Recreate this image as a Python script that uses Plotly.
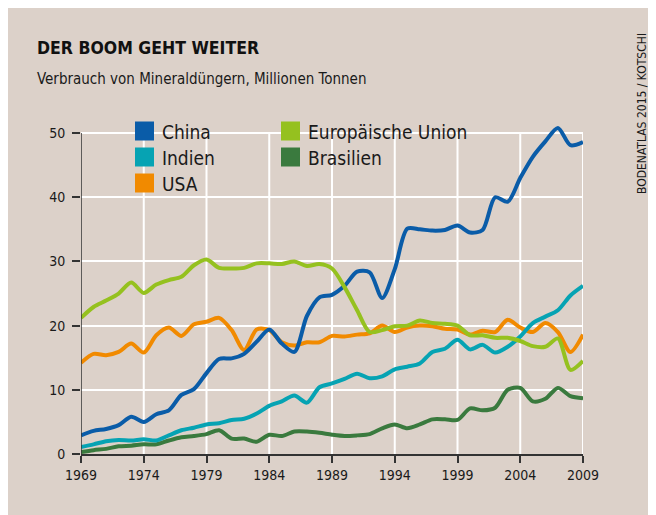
import plotly.graph_objects as go

years = list(range(1969, 2010))

china = [2.9, 3.6, 3.9, 4.5, 5.8, 5.0, 6.2, 6.8, 9.2, 10.1,
         12.6, 14.8, 14.9, 15.6, 17.5, 19.4, 17.2, 15.9, 21.5, 24.4,
         24.8, 26.2, 28.4, 28.3, 24.3, 28.8, 35.1, 35.0, 34.8, 34.9,
         35.6, 34.5, 34.9, 40.0, 39.3, 43.0, 46.3, 48.7, 50.8, 48.1, 48.6]

indien = [1.1, 1.5, 2.0, 2.2, 2.1, 2.3, 2.1, 2.9, 3.7, 4.1,
          4.6, 4.8, 5.3, 5.5, 6.3, 7.5, 8.2, 9.1, 8.0, 10.4,
          11.0, 11.7, 12.5, 11.8, 12.1, 13.2, 13.6, 14.1, 15.9, 16.4,
          17.8, 16.3, 17.0, 15.8, 16.7, 18.3, 20.4, 21.4, 22.4, 24.7, 26.2]

usa = [14.2, 15.6, 15.4, 15.9, 17.2, 15.8, 18.5, 19.7, 18.4, 20.2,
       20.6, 21.2, 19.3, 16.2, 19.4, 19.3, 17.4, 16.9, 17.4, 17.4,
       18.4, 18.3, 18.6, 18.8, 20.0, 19.0, 19.7, 20.0, 19.9, 19.5,
       19.4, 18.6, 19.2, 19.0, 20.9, 19.7, 19.0, 20.4, 19.0, 15.9, 18.6]

eu = [21.2, 22.9, 23.9, 25.0, 26.7, 25.1, 26.4, 27.1, 27.6, 29.4,
      30.3, 29.0, 28.9, 29.0, 29.7, 29.7, 29.6, 30.0, 29.3, 29.6,
      28.9, 26.0, 22.4, 19.0, 19.3, 19.9, 20.0, 20.8, 20.4, 20.3,
      20.0, 18.5, 18.5, 18.1, 18.1, 17.6, 16.8, 16.7, 18.0, 13.1, 14.5]

brasilien = [0.3, 0.6, 0.8, 1.2, 1.3, 1.5, 1.5, 2.1, 2.6, 2.8,
             3.1, 3.7, 2.4, 2.4, 1.9, 3.0, 2.8, 3.5, 3.5, 3.3,
             3.0, 2.8, 2.9, 3.1, 4.0, 4.6, 4.0, 4.6, 5.4, 5.4,
             5.3, 7.1, 6.8, 7.2, 10.0, 10.3, 8.2, 8.6, 10.3, 9.0, 8.7]

series_names = ["China", "Indien", "USA", "Europäische Union", "Brasilien"]
x_ticks = [1969, 1974, 1979, 1984, 1989, 1994, 1999, 2004, 2009]
y_ticks = [0, 10, 20, 30, 40, 50]

title = "DER BOOM GEHT WEITER"
subtitle = "Verbrauch von Mineraldüngern, Millionen Tonnen"
source = "BODENATLAS 2015 / KOTSCHI"

colors = {
    "China": "#0a5ca8",
    "Indien": "#06a3b3",
    "USA": "#f18a00",
    "Europäische Union": "#95c11f",
    "Brasilien": "#3a7a3e",
}
data = {"China": china, "Indien": indien, "USA": usa,
        "Europäische Union": eu, "Brasilien": brasilien}

BG = "#dcd1c9"
AXIS = "#333333"
FONT = "DejaVu Sans Condensed, Liberation Sans Narrow, sans-serif"
OFF = 8  # page body margin
W, H = 643, 507
Y_MAX = 52.5  # headroom so the 2007 China peak is not clipped
PX_PER_UNIT = 6.42
# plot area in page pixels: x 81..583, y 0 at 454, 50 at ~133
L = 81 - OFF
R = W - (583 - OFF)
B = H - (454 - OFF)
T = round(454 - Y_MAX * PX_PER_UNIT) - OFF
PW, PH = W - L - R, H - T - B


def xp(px):
    return (px - OFF - L) / PW


def yp(py):
    return (H - B - (py - OFF)) / PH


fig = go.Figure()
for name in ["Brasilien", "USA", "Indien", "China", "Europäische Union"]:
    fig.add_trace(go.Scatter(
        x=years, y=data[name], name=name, mode="lines",
        line=dict(color=colors[name], width=4, shape="spline", smoothing=0.8),
        showlegend=False, hoverinfo="x+y+name"))

shapes = []
annotations = []

# vertical grid lines limited to 0..50
for xv in x_ticks[1:]:
    shapes.append(dict(type="line", xref="x", yref="y", layer="below",
                       x0=xv, x1=xv, y0=0, y1=y_ticks[-1],
                       line=dict(color="white", width=2)))
# y axis line 0..50
shapes.append(dict(type="line", xref="x", yref="y", layer="above",
                   x0=x_ticks[0], x1=x_ticks[0], y0=0, y1=y_ticks[-1],
                   line=dict(color=AXIS, width=1.5)))

# legend
legend_pos = {
    "China": (135, 131), "Indien": (135, 157), "USA": (135, 183),
    "Europäische Union": (281, 131), "Brasilien": (281, 157),
}
for name in series_names:
    lx, ly = legend_pos[name]
    shapes.append(dict(type="rect", xref="paper", yref="paper",
                       x0=xp(lx), x1=xp(lx + 19), y0=yp(ly + 9.5), y1=yp(ly - 9.5),
                       fillcolor=colors[name], line=dict(width=0)))
    annotations.append(dict(text=name, xref="paper", yref="paper",
                            x=xp(lx + 25), y=yp(ly + 1), xanchor="left", yanchor="middle",
                            showarrow=False, font=dict(family=FONT, size=19, color="#1a1a1a")))

annotations.append(dict(text="<b>" + title + "</b>", xref="paper", yref="paper",
                        x=xp(35), y=yp(48), xanchor="left", yanchor="middle",
                        showarrow=False, font=dict(family=FONT, size=17.5, color="#111111")))
annotations.append(dict(text=subtitle, xref="paper", yref="paper",
                        x=xp(35), y=yp(79), xanchor="left", yanchor="middle",
                        showarrow=False, font=dict(family=FONT, size=15, color="#1a1a1a")))
annotations.append(dict(text=source, xref="paper", yref="paper",
                        x=xp(642), y=yp(114), xanchor="center", yanchor="middle",
                        textangle=-90, showarrow=False,
                        font=dict(family=FONT, size=12, color="#1a1a1a")))

fig.update_layout(
    width=W, height=H,
    margin=dict(l=L, r=R, t=T, b=B, pad=0),
    paper_bgcolor=BG,
    plot_bgcolor="rgba(0,0,0,0)",
    font=dict(family=FONT, size=14, color="#1a1a1a"),
    shapes=shapes,
    annotations=annotations,
    showlegend=False,
    xaxis=dict(range=[1969, 2009], tickmode="array", tickvals=x_ticks,
               ticktext=[str(v) for v in x_ticks],
               showgrid=False,
               zeroline=False, showline=True, linecolor=AXIS, linewidth=1.5,
               ticks="outside", ticklen=7, tickwidth=1.5, tickcolor=AXIS,
               ticklabelstandoff=0,
               tickfont=dict(family=FONT, size=14, color="#1a1a1a"), fixedrange=True),
    yaxis=dict(range=[0, Y_MAX], tickmode="array", tickvals=y_ticks,
               showgrid=True, gridcolor="white", gridwidth=2,
               zeroline=False, showline=False,
               ticks="outside", ticklen=8, tickwidth=1.5, tickcolor=AXIS,
               ticklabelstandoff=4,
               tickfont=dict(family=FONT, size=14, color="#1a1a1a"), fixedrange=True),
)

fig.write_html("out.html")
